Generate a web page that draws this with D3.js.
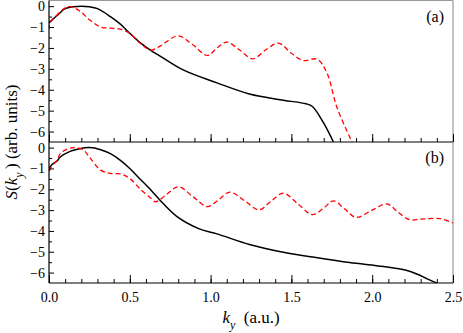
<!DOCTYPE html>
<html>
<head>
<meta charset="utf-8">
<script src="https://cdn.jsdelivr.net/npm/d3@7"></script>
<style>
  body { margin: 0; background: #fff; }
  svg text { font-family: "Liberation Serif", "Times New Roman", serif !important; }
  .axis path { display: none; }
  .axis line { stroke: #000; }
</style>
</head>
<body>
<div id="chart"></div>
<script>
// Panel (a)
const kA_black = [0, 0.05, 0.1, 0.15, 0.2, 0.25, 0.3, 0.38, 0.44, 0.5, 0.56, 0.63, 0.69, 0.83, 1.04, 1.24, 1.45, 1.59, 1.63, 1.7, 1.76];
const sA_black = [-0.8, -0.45, -0.12, -0.03, 0, -0.03, -0.12, -0.5, -0.85, -1.3, -1.72, -2.12, -2.4, -3.05, -3.67, -4.2, -4.5, -4.67, -4.8, -5.6, -6.5];
const kA_red = [0, 0.005, 0.05, 0.1, 0.13, 0.19, 0.25, 0.32, 0.38, 0.44, 0.5, 0.56, 0.63, 0.69, 0.8, 0.89, 0.98, 1.04, 1.1, 1.18, 1.26, 1.34, 1.42, 1.5, 1.57, 1.66, 1.72, 1.78, 1.86, 1.875];
const sA_red = [-6.5, -0.85, -0.42, -0.08, -0.02, -0.23, -0.65, -1.0, -1.05, -1.1, -1.3, -1.75, -2.1, -1.9, -1.42, -1.85, -2.36, -2.0, -1.72, -2.1, -2.52, -2.1, -1.77, -2.25, -2.6, -2.54, -3.2, -4.8, -6.25, -6.5];

// Panel (b)
const kB_black = [0, 0.02, 0.05, 0.07, 0.13, 0.19, 0.25, 0.32, 0.38, 0.44, 0.5, 0.56, 0.63, 0.69, 0.79, 0.93, 1.04, 1.24, 1.45, 1.66, 1.86, 2.07, 2.21, 2.28, 2.34, 2.4];
const sB_black = [-1.0, -0.8, -0.64, -0.45, -0.18, -0.05, 0, -0.1, -0.29, -0.6, -1.0, -1.48, -2.03, -2.55, -3.3, -3.9, -4.14, -4.65, -5.02, -5.29, -5.52, -5.71, -5.89, -6.08, -6.3, -6.5];
const kB_red = [0, 0.004, 0.05, 0.07, 0.11, 0.15, 0.21, 0.25, 0.32, 0.38, 0.44, 0.5, 0.56, 0.63, 0.66, 0.72, 0.8, 0.89, 0.98, 1.05, 1.12, 1.21, 1.3, 1.37, 1.45, 1.54, 1.63, 1.7, 1.76, 1.83, 1.9, 2.0, 2.09, 2.16, 2.23, 2.32, 2.42, 2.5];
const sB_red = [-6.5, -1.1, -0.6, -0.29, -0.08, 0, -0.1, -0.45, -1.08, -1.24, -1.26, -1.48, -1.95, -2.43, -2.6, -2.3, -1.88, -2.35, -2.83, -2.5, -2.14, -2.55, -2.99, -2.6, -2.19, -2.7, -3.22, -2.9, -2.56, -2.95, -3.35, -3.0, -2.7, -3.1, -3.46, -3.42, -3.41, -3.62];

const yTicks = [0, -1, -2, -3, -4, -5, -6];
const yMinor = [-0.5, -1.5, -2.5, -3.5, -4.5, -5.5];
const xTicks = [0, 0.5, 1.0, 1.5, 2.0, 2.5];
const panelLabels = ['(a)', '(b)'];

const width = 463, height = 333;
const left = 49, right = 453;
const panels = [
  { top: 0.5, bottom: 142, black: [kA_black, sA_black], red: [kA_red, sA_red], label: panelLabels[0], showX: false },
  { top: 142, bottom: 283, black: [kB_black, sB_black], red: [kB_red, sB_red], label: panelLabels[1], showX: true }
];

const svg = d3.select('#chart').append('svg')
  .attr('width', width).attr('height', height)
  .style('display', 'block');

const x = d3.scaleLinear().domain([0, 2.5]).range([left, right]);
const minorX = d3.range(0, 2.51, 0.1).map(v => +v.toFixed(1));

panels.forEach((p, i) => {
  const y = d3.scaleLinear().domain([-6.5, 0.27]).range([p.bottom, p.top]);

  svg.append('clipPath').attr('id', 'clip' + i)
    .append('rect').attr('x', left).attr('y', p.top)
    .attr('width', right - left).attr('height', p.bottom - p.top);

  // frame: gray top/right, black left/bottom
  if (i === 0) {
    svg.append('line').attr('x1', left).attr('x2', right).attr('y1', p.top).attr('y2', p.top)
      .attr('stroke', '#999').attr('stroke-width', 1.2);
  }
  svg.append('line').attr('x1', right).attr('x2', right).attr('y1', p.top).attr('y2', p.bottom)
    .attr('stroke', '#999').attr('stroke-width', 1.2);

  const line = d3.line()
    .x(d => x(d[0]))
    .y(d => y(d[1]))
    .curve(d3.curveCatmullRom.alpha(0.5));

  const g = svg.append('g').attr('clip-path', `url(#clip${i})`);
  g.append('path')
    .datum(d3.zip(p.black[0], p.black[1]))
    .attr('d', line)
    .attr('fill', 'none').attr('stroke', '#000').attr('stroke-width', 1.5);
  g.append('path')
    .datum(d3.zip(p.red[0], p.red[1]))
    .attr('d', line)
    .attr('fill', 'none').attr('stroke', '#f00').attr('stroke-width', 1.3)
    .attr('stroke-dasharray', '5,3');

  // y axis (minor + major, pointing inward)
  svg.append('g').attr('class', 'axis')
    .attr('transform', `translate(${left},0)`)
    .call(d3.axisRight(y).tickValues(yMinor).tickSize(3).tickFormat(''));
  const ya = svg.append('g').attr('class', 'axis')
    .attr('transform', `translate(${left},0)`)
    .call(d3.axisRight(y).tickValues(yTicks).tickSize(5).tickFormat(d3.format('d')));
  ya.attr('font-size', 14);
  ya.selectAll('text').attr('x', -4).attr('text-anchor', 'end').attr('fill', '#000');

  // x axis minor + major ticks pointing up
  svg.append('g').attr('class', 'axis')
    .attr('transform', `translate(0,${p.bottom})`)
    .call(d3.axisTop(x).tickValues(minorX).tickSize(4).tickFormat(''));
  const xa = svg.append('g').attr('class', 'axis')
    .attr('transform', `translate(0,${p.bottom})`)
    .call(d3.axisTop(x).tickValues(xTicks).tickSize(8).tickFormat(p.showX ? d3.format('.1f') : ''));
  xa.attr('font-size', 14);
  if (p.showX) {
    xa.selectAll('text').attr('y', 9).attr('dy', '0.71em').attr('fill', '#000');
  }

  // axis lines
  svg.append('line').attr('x1', left).attr('x2', right).attr('y1', p.bottom).attr('y2', p.bottom)
    .attr('stroke', '#000').attr('stroke-width', 1.2);
  svg.append('line').attr('x1', left).attr('x2', left).attr('y1', p.top).attr('y2', p.bottom)
    .attr('stroke', '#000').attr('stroke-width', 1.2);

  svg.append('text')
    .attr('x', 444).attr('y', p.top + 21)
    .attr('text-anchor', 'end')
    .attr('font-size', 16)
    .text(p.label);
});

// axis titles
const xt = svg.append('text')
  .attr('x', 251).attr('y', 323)
  .attr('text-anchor', 'middle')
  .attr('font-size', 17);
xt.append('tspan').attr('font-style', 'italic').text('k');
xt.append('tspan').attr('dy', 6).attr('font-size', 12).attr('font-style', 'italic').text('y');
xt.append('tspan').attr('dy', -6).text('\u2002(a.u.)');

const yt = svg.append('text')
  .attr('transform', 'translate(17,142) rotate(-90)')
  .attr('text-anchor', 'middle')
  .attr('font-size', 17);
yt.append('tspan').attr('font-style', 'italic').text('S');
yt.append('tspan').text('(');
yt.append('tspan').attr('font-style', 'italic').text('k');
yt.append('tspan').attr('dy', 6).attr('font-size', 12).attr('font-style', 'italic').text('y');
yt.append('tspan').attr('dy', -6).text('\u2009) (arb. units)');
</script>
</body>
</html>
